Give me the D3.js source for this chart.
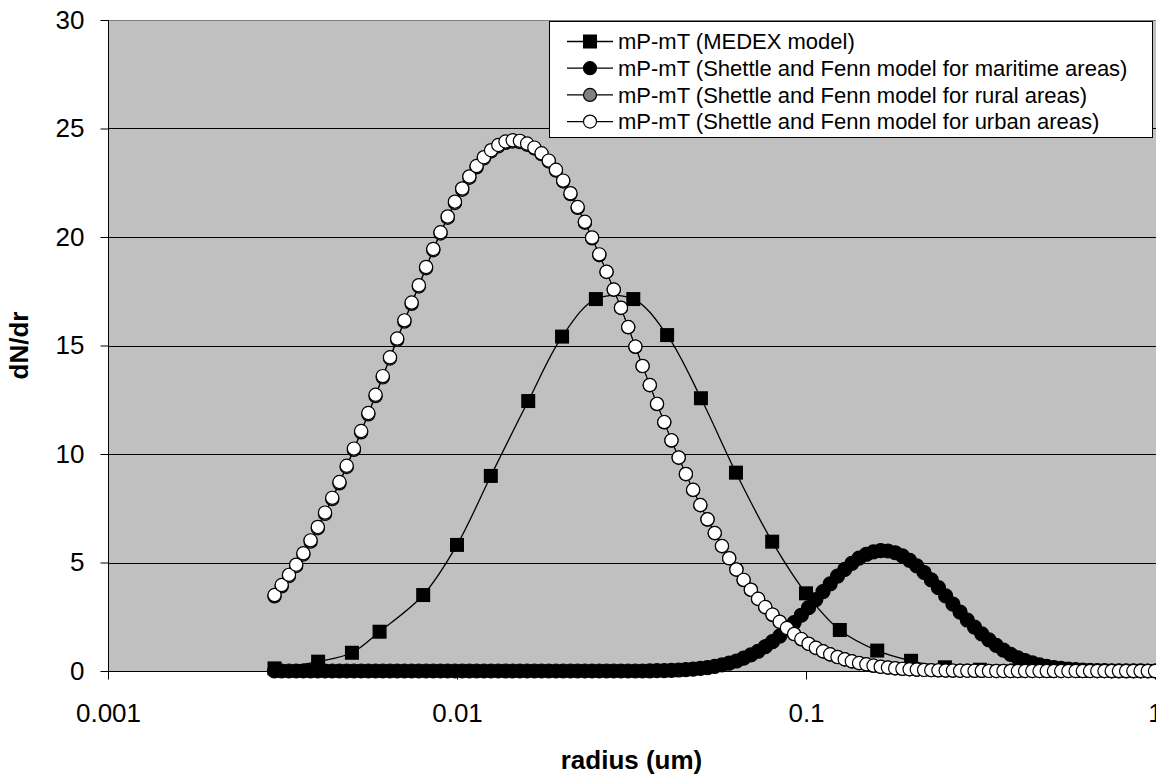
<!DOCTYPE html>
<html><head><meta charset="utf-8">
<script src="https://cdn.jsdelivr.net/npm/d3@7"></script>
<style>body{margin:0;background:#fff}svg{display:block}text{font-family:"Liberation Sans",Arial,sans-serif}</style>
</head><body><svg id="c" width="1156" height="776"></svg>
<script>
// shared radius grid (um) of the three Shettle & Fenn series
const radius = [0.003,0.003146,0.003300,0.003461,0.003629,0.003806,0.003992,0.004187,0.004391,0.004605,
0.004830,0.005065,0.005312,0.005571,0.005843,0.006128,0.006427,0.006740,0.007069,0.007413,
0.007775,0.008154,0.008552,0.008969,0.009406,0.009865,0.01035,0.01085,0.01138,0.01194,
0.01252,0.01313,0.01377,0.01444,0.01514,0.01588,0.01666,0.01747,0.01832,0.01921,
0.02015,0.02114,0.02217,0.02325,0.02438,0.02557,0.02682,0.02813,0.02950,0.03094,
0.03244,0.03402,0.03568,0.03742,0.03925,0.04116,0.04317,0.04527,0.04748,0.04980,
0.05222,0.05477,0.05744,0.06024,0.06318,0.06626,0.06949,0.07288,0.07643,0.08016,
0.08407,0.08817,0.09247,0.09698,0.1017,0.1067,0.1119,0.1173,0.1231,0.1291,
0.1353,0.1419,0.1489,0.1561,0.1637,0.1717,0.1801,0.1889,0.1981,0.2077,
0.2179,0.2285,0.2396,0.2513,0.2636,0.2764,0.2899,0.3040,0.3189,0.3344,
0.3508,0.3679,0.3858,0.4047,0.4244,0.4451,0.4668,0.4895,0.5134,0.5385,
0.5647,0.5922,0.6211,0.6514,0.6832,0.7165,0.7514,0.7881,0.8265,0.8668,
0.9091,0.9534,1.0];
const maritime = [0,0,0,0,0,0,0,0,0,0, 0,0,0,0,0,0,0,0,0,0,
0,0,0,0,0,0,0,0,0,0, 0,0,0,0,0,0,0,0,0,0,
0,0,0,0,0,0,0,0,0,0, 0,0,0.01,0.015,0.02,0.03,0.045,0.06,0.085,0.12,
0.16,0.21,0.28,0.36,0.46,0.59,0.74,0.91,1.12,1.35,
1.61,1.91,2.23,2.57,2.92,3.29,3.66,4.02,4.37,4.68,
4.96,5.20,5.38,5.49,5.55,5.53,5.45,5.31,5.10,4.84,
4.54,4.20,3.84,3.46,3.08,2.71,2.35,2.02,1.71,1.43,
1.18,0.96,0.77,0.61,0.48,0.37,0.28,0.21,0.16,0.12,
0.085,0.06,0.043,0.03,0.021,0.014,0.01,0.007,0.005,0.003,
0.002,0.001,0.001];
const rural = [3.44,3.90,4.37,4.84,5.37,5.96,6.58,7.24,7.92,8.65,
9.40,10.19,11.00,11.83,12.67,13.53,14.40,15.26,16.10,16.92,
17.72,18.56,19.39,20.16,20.89,21.57,22.18,22.73,23.21,23.62,
23.94,24.18,24.34,24.40,24.37,24.25,24.08,23.82,23.48,23.06,
22.56,21.98,21.34,20.66,19.94,19.16,18.39,17.57,16.73,15.84,
14.94,14.05,13.17,12.30,11.46,10.62,9.83,9.07,8.34,7.64,
6.98,6.35,5.75,5.19,4.67,4.19,3.74,3.32,2.94,2.59,
2.26,1.97,1.70,1.46,1.25,1.06,0.90,0.76,0.64,0.53,
0.44,0.36,0.30,0.24,0.19,0.15,0.12,0.10,0.08,0.06,
0.05,0.04,0.03,0.02,0.017,0.013,0.010,0.007,0.005,0.004,
0.003,0.002,0.001,0.001,0.001,0,0,0,0,0,
0,0,0,0,0,0,0,0,0,0,0,0,0];
const urban = [3.50,3.96,4.43,4.90,5.43,6.02,6.64,7.30,7.98,8.71,
9.46,10.25,11.06,11.89,12.73,13.59,14.46,15.32,16.16,16.98,
17.78,18.62,19.45,20.22,20.95,21.63,22.24,22.79,23.27,23.68,
24.00,24.24,24.40,24.46,24.43,24.31,24.12,23.86,23.52,23.10,
22.60,22.02,21.38,20.70,19.98,19.20,18.40,17.58,16.74,15.85,
14.95,14.06,13.18,12.31,11.47,10.63,9.84,9.08,8.35,7.65,
6.99,6.36,5.76,5.20,4.68,4.20,3.75,3.33,2.95,2.60,
2.27,1.98,1.71,1.47,1.26,1.07,0.91,0.77,0.65,0.54,
0.45,0.37,0.31,0.25,0.20,0.16,0.13,0.10,0.08,0.065,
0.05,0.04,0.03,0.023,0.018,0.014,0.010,0.008,0.006,0.004,
0.003,0.002,0.002,0.001,0.001,0.001,0,0,0,0,
0,0,0,0,0,0,0,0,0,0,0,0,0];
const medexRadius = [0.003,0.004,0.005,0.006,0.008,0.01,0.0125,0.016,0.02,0.025,0.032,0.04,0.05,0.063,0.08,0.1,0.125,0.16,0.2,0.25,0.315,0.4,0.5,0.63,0.8,1.0];
const medex = [0.12,0.43,0.84,1.81,3.50,5.81,8.99,12.44,15.41,17.14,17.14,15.48,12.57,9.14,5.96,3.58,1.89,0.94,0.47,0.17,0.06,0.02,0.005,0.001,0,0];
const xTicks = [0.001,0.01,0.1,1];
const xTickLabels = ["0.001","0.01","0.1","1"];
const yTicks = [0,5,10,15,20,25,30];
const legendLabels = ["mP-mT (MEDEX model)","mP-mT (Shettle and Fenn model for maritime areas)","mP-mT (Shettle and Fenn model for rural areas)","mP-mT (Shettle and Fenn model for urban areas)"];

const svg = d3.select("#c");
const L=108, R=1155, T=20, B=671;
const x = d3.scaleLog().domain([0.001,1]).range([L,R]);
const y = d3.scaleLinear().domain([0,30]).range([B,T]);

svg.append("rect").attr("x",L).attr("y",T).attr("width",1156-L).attr("height",B-T).attr("fill","#c0c0c0");
svg.append("line").attr("x1",L).attr("x2",1156).attr("y1",T+0.5).attr("y2",T+0.5).attr("stroke","#808080");
svg.selectAll(".grid").data(yTicks.filter(d=>d>0&&d<30)).join("line")
  .attr("x1",L).attr("x2",1156).attr("y1",d=>Math.round(y(d))+0.5).attr("y2",d=>Math.round(y(d))+0.5)
  .attr("stroke","#000").attr("stroke-width",1);

// axes
const yAxis = svg.append("g").attr("transform",`translate(${L+0.5},0)`)
  .call(d3.axisLeft(y).tickValues(yTicks).tickSize(8).tickPadding(16).tickFormat(d3.format("d")));
const xAxis = svg.append("g").attr("transform",`translate(0,${B+0.5})`)
  .call(d3.axisBottom(x).tickValues(xTicks).tickSize(8).tickPadding(24).tickFormat((d,i)=>xTickLabels[i]));
[yAxis,xAxis].forEach(g=>{g.select(".domain").attr("stroke","#000");g.selectAll(".tick line").attr("stroke","#000");
  g.selectAll("text").attr("fill","#000").style("font-size","26px").style("font-family",'"Liberation Sans",Arial,sans-serif');});
yAxis.select(".domain").attr("d",`M0,${T}V${B}`);
xAxis.select(".domain").attr("d",`M${L},0H1156`);

svg.append("text").attr("transform",`translate(28,${(T+B)/2}) rotate(-90)`).attr("text-anchor","middle")
  .style("font-size","26px").style("font-weight","bold").text("dN/dr");
svg.append("text").attr("x",(L+R)/2).attr("y",769).attr("text-anchor","middle")
  .style("font-size","26px").style("font-weight","bold").text("radius (um)");

const line = d3.line().x(d=>x(d[0])).y(d=>y(d[1]));
const smooth = d3.line().x(d=>x(d[0])).y(d=>y(d[1])).curve(d3.curveCatmullRom.alpha(0.5));

// MEDEX
const md = medexRadius.map((r,i)=>[r,medex[i]]);
svg.append("path").attr("d",smooth(md)).attr("fill","none").attr("stroke","#000").attr("stroke-width",1.3);
svg.selectAll(".sq").data(md).join("rect").attr("x",d=>x(d[0])-7).attr("y",d=>y(d[1])-7)
  .attr("width",14).attr("height",14).attr("fill","#000");

function circles(vals, fill, r){
  const d = radius.map((rr,i)=>[rr,vals[i]]);
  svg.append("path").attr("d",line(d)).attr("fill","none").attr("stroke","#000").attr("stroke-width",1);
  svg.append("g").selectAll("circle").data(d).join("circle").attr("cx",p=>x(p[0])).attr("cy",p=>y(p[1]))
    .attr("r",r).attr("fill",fill).attr("stroke","#000").attr("stroke-width",1.2);
}
circles(maritime,"#000",7);
circles(rural,"#808080",6.6);
circles(urban,"#fff",6.6);

// legend
const lg = svg.append("g");
lg.append("rect").attr("x",549.5).attr("y",21.5).attr("width",603).attr("height",116).attr("fill","#fff").attr("stroke","#000");
const fills = ["#000","#000","#808080","#fff"];
legendLabels.forEach((t,i)=>{
  const cy = 41.5 + i*26.7;
  lg.append("line").attr("x1",567).attr("x2",613).attr("y1",cy).attr("y2",cy).attr("stroke","#000").attr("stroke-width",1.3);
  if(i===0) lg.append("rect").attr("x",583).attr("y",cy-7).attr("width",14).attr("height",14).attr("fill","#000");
  else lg.append("circle").attr("cx",590).attr("cy",cy).attr("r",6.5).attr("fill",fills[i]).attr("stroke","#000").attr("stroke-width",1.2);
  lg.append("text").attr("x",618).attr("y",cy).attr("dy","0.35em").style("font-size","22px").text(t);
});
</script></body></html>
